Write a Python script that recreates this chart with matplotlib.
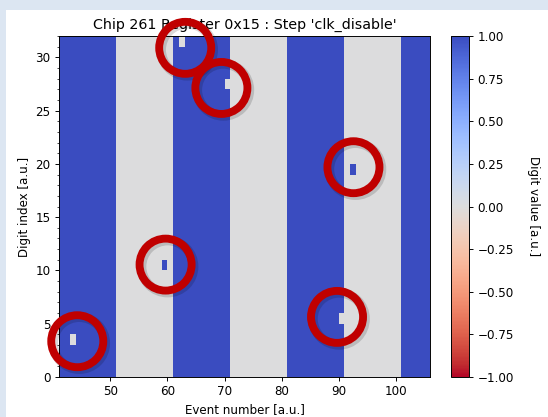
import numpy as np
import matplotlib
matplotlib.use('Agg')
import matplotlib.pyplot as plt
from matplotlib.patches import Ellipse, Rectangle
from matplotlib import transforms

# events shown on the x axis and digits on the y axis
events = np.arange(41, 106)
n_digits = 32

# (first event, last event, digit value) for each block of identical frames
stripes = [(41, 50, 1), (51, 60, 0), (61, 70, 1), (71, 80, 0),
           (81, 90, 1), (91, 100, 0), (101, 105, 1)]

# single flipped digits: (event, digit index, value)
flips = [(43, 3, 0), (59, 10, 1), (62, 31, 0), (70, 27, 0),
         (92, 19, 1), (90, 5, 0)]

# hand-drawn rings are not exactly centred on the flips (pixels, right / down)
ring_shift = [(4, 1.5), (1, -0.5), (3.5, 6.5), (-6, 4), (0.5, -2), (-4.5, -1.5)]

digits = np.zeros((n_digits, len(events)))
for first, last, val in stripes:
    digits[:, (events >= first) & (events <= last)] = val
for ev, idx, val in flips:
    digits[idx, ev - events[0]] = val

W, H = 548, 417
fig = plt.figure(figsize=(6.4, 6.4 * H / W), dpi=W / 6.4)
fig.patch.set_facecolor('#dce6f2')
fig.patches.append(Rectangle((6 / W, 0), 1, 1 - 10 / H, transform=fig.transFigure,
                             facecolor='white', edgecolor='none', zorder=-10))

ax = fig.add_axes([59 / W, 40 / H, 371 / W, 341 / H])
im = ax.imshow(digits, origin='lower', aspect='auto', cmap='coolwarm_r',
               vmin=-1, vmax=1, interpolation='nearest',
               extent=(events[0], events[-1] + 1, 0, n_digits))
ax.set_yticks(np.arange(0, 31, 5))
ax.set_yticks(np.arange(0, 33, 1), minor=True)
ax.set_xticks(np.arange(50, 101, 10))
ax.set_title("Chip 261 Register 0x15 : Step 'clk_disable'")
ax.set_xlabel('Event number [a.u.]')
ax.set_ylabel('Digit index [a.u.]')

cax = fig.add_axes([451 / W, 40 / H, 18 / W, 341 / H])
cb = fig.colorbar(im, cax=cax, ticks=np.linspace(-1, 1, 9))
cb.set_label('Digit value [a.u.]', rotation=270, labelpad=22)

# red rings highlighting the flipped digits
rx = 26 / 5.7
ry = 26 / 10.66
for (ev, idx, val), (dx, dy) in zip(flips, ring_shift):
    shadow = transforms.offset_copy(ax.transData, fig=fig, x=dx + 2, y=-dy - 2, units='dots')
    ring = transforms.offset_copy(ax.transData, fig=fig, x=dx, y=-dy, units='dots')
    ax.add_patch(Ellipse((ev + 0.5, idx + 0.5), 2 * rx, 2 * ry, transform=shadow,
                         fill=False, edgecolor='black', alpha=0.15, lw=8,
                         clip_on=False, zorder=9))
    ax.add_patch(Ellipse((ev + 0.5, idx + 0.5), 2 * rx, 2 * ry, transform=ring,
                         fill=False, edgecolor='#c00000', lw=6.6,
                         clip_on=False, zorder=10))

fig.savefig('out.png', facecolor=fig.get_facecolor())
